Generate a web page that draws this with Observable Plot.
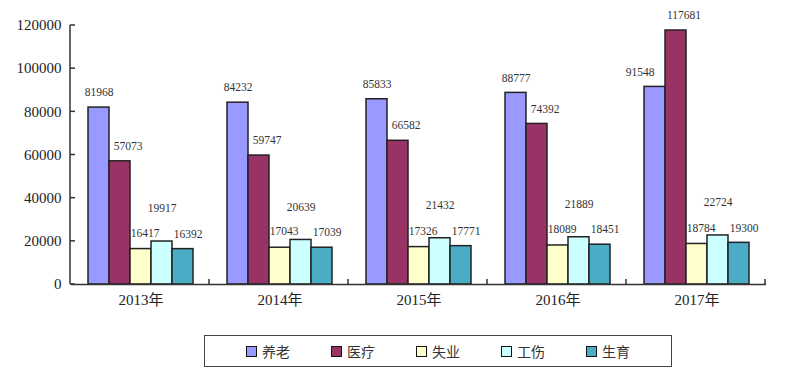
<!DOCTYPE html>
<html>
<head>
<meta charset="utf-8">
<script src="https://cdn.jsdelivr.net/npm/d3@7"></script>
<script src="https://cdn.jsdelivr.net/npm/@observablehq/plot@0.6"></script>
<style>
  html, body { margin: 0; padding: 0; background: #fff; }
  #wrap { position: relative; width: 787px; height: 375px; overflow: hidden; }
  #legend {
    position: absolute; left: 204px; top: 335px; width: 466px; height: 30px;
    border: 1.5px solid #444; display: flex; align-items: center; justify-content: center;
    gap: 41px; font-family: "Noto Sans CJK SC", sans-serif; font-size: 14px; color: #333;
  }
  .item { display: flex; align-items: center; gap: 5px; }
  .sw { width: 9px; height: 9px; border: 1.5px solid #111; }
</style>
</head>
<body>
<div id="wrap"><div id="chart"></div><div id="legend"></div></div>
<script>
const years = ["2013年", "2014年", "2015年", "2016年", "2017年"];
const categories = ["养老", "医疗", "失业", "工伤", "生育"];
const pension = [81968, 84232, 85833, 88777, 91548];
const medical = [57073, 59747, 66582, 74392, 117681];
const unemployment = [16417, 17043, 17326, 18089, 18784];
const injury = [19917, 20639, 21432, 21889, 22724];
const maternity = [16392, 17039, 17771, 18451, 19300];
const yTicks = [0, 20000, 40000, 60000, 80000, 100000, 120000];
const colors = ["#9999FF", "#993366", "#FFFFCC", "#CCFFFF", "#4BACC6"];

const series = [pension, medical, unemployment, injury, maternity];
const rows = [];
years.forEach((yr, i) => categories.forEach((c, j) => rows.push({year: yr, cat: c, value: series[j][i], idx: i})));

// label offsets: pension label moves left when the medical bar next to it is taller
const labelDx = d => d.cat === "养老" ? (medical[d.idx] > pension[d.idx] ? -15 : 0)
  : ({"医疗": 8, "失业": 4, "工伤": 0, "生育": 5})[d.cat];
const labelDy = {"养老": -15, "医疗": -15, "失业": -16, "工伤": -33, "生育": -15};

const serif = "'Liberation Serif', 'Times New Roman', serif";
const W = 787, H = 322;

const plot = Plot.plot({
  width: W, height: H,
  marginLeft: 70, marginRight: 20, marginTop: 25, marginBottom: H - 284,
  style: {fontFamily: serif, color: "#333", background: "transparent"},
  fx: {domain: years, padding: 0, label: null},
  x: {domain: categories, paddingInner: 0, paddingOuter: 0.74, axis: null},
  y: {domain: [0, 120000], label: null},
  color: {domain: categories, range: colors},
  marks: [
    Plot.axisY({ticks: yTicks, tickSize: 0, tickPadding: 10, tickFormat: d => String(d), fontSize: 15, fill: "#222"}),
    Plot.axisFx({anchor: "bottom", tickSize: 0, tickPadding: 10, fontSize: 15, fill: "#222", label: null,
      fontFamily: serif + ", 'Noto Sans CJK SC'"}),
    Plot.barY(rows, {fx: "year", x: "cat", y: "value", fill: "cat", stroke: "#222", strokeWidth: 1.5}),
    Plot.ruleY([0], {stroke: "#333", strokeWidth: 1.5}),
    ...rows.map(r => Plot.text([r], {
      fx: "year", x: "cat", y: "value", text: d => String(d.value),
      dx: labelDx(r), dy: labelDy[r.cat], fontSize: 11.5, fill: "#333", fontFamily: serif
    }))
  ]
});

document.getElementById("chart").appendChild(plot);

// axis line, inward y ticks and group separator ticks from the plot's own scales
const ys = plot.scale("y");
const yScale = d3.scaleLinear(ys.domain, ys.range);
const fxs = plot.scale("fx");
const fxRange = fxs.range || [70, W - 20];
const step = fxs.step || (fxRange[1] - fxRange[0]) / years.length;
const svg = d3.select(plot);
const g = svg.append("g").attr("stroke", "#333").attr("stroke-width", 1.5);
const y0 = yScale(0), yTop = yScale(120000);
g.append("line").attr("x1", fxRange[0]).attr("x2", fxRange[0]).attr("y1", yTop).attr("y2", y0);
yTicks.forEach(t => g.append("line").attr("x1", fxRange[0]).attr("x2", fxRange[0] + 5)
  .attr("y1", yScale(t)).attr("y2", yScale(t)));
for (let i = 1; i <= years.length; i++) {
  const x = fxRange[0] + i * step;
  g.append("line").attr("x1", x).attr("x2", x).attr("y1", y0).attr("y2", y0 - 5);
}

// legend
const lg = document.getElementById("legend");
categories.forEach((c, i) => {
  const it = document.createElement("div"); it.className = "item";
  const sw = document.createElement("div"); sw.className = "sw"; sw.style.background = colors[i];
  const tx = document.createElement("span"); tx.textContent = c;
  it.appendChild(sw); it.appendChild(tx); lg.appendChild(it);
});
</script>
</body>
</html>
